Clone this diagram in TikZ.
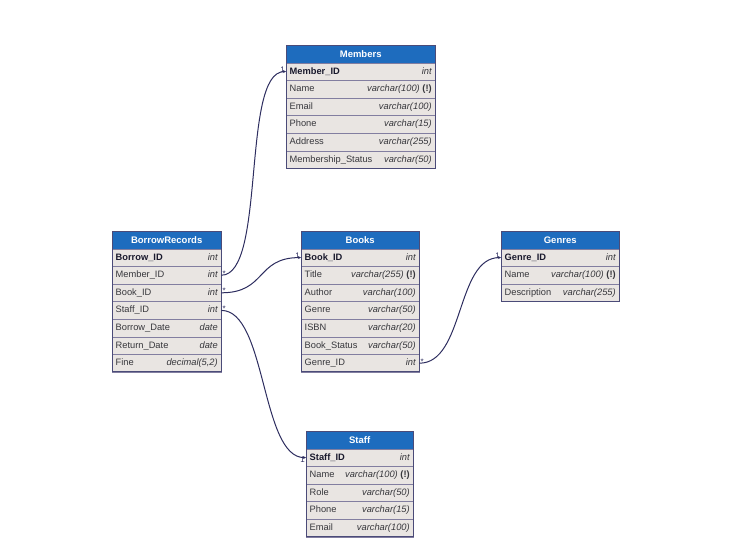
\documentclass[tikz,border=0pt]{standalone}
\usepackage{fontspec}
\setmainfont{Liberation Sans}
\usetikzlibrary{arrows.meta}
\definecolor{hdrblue}{RGB}{30,108,190}
\definecolor{rowfill}{RGB}{233,229,226}
\definecolor{bordc}{RGB}{75,75,120}
\definecolor{sepc}{RGB}{130,126,160}
\definecolor{txtc}{RGB}{55,55,60}
\definecolor{pkc}{RGB}{25,25,45}
\definecolor{linkc}{RGB}{45,45,95}
\tikzset{
  hdr/.style={draw=bordc, fill=hdrblue, text=white, font=\bfseries\fontsize{9.5}{10}\selectfont, minimum height=17.6pt, inner sep=0pt, anchor=north west},
  erow/.style={draw=sepc, fill=rowfill, text=txtc, minimum height=17.6pt, inner sep=0pt, anchor=north west, font=\fontsize{9.3}{10}\selectfont},
  frame/.style={draw=bordc, line width=0.9pt},
  link/.style={draw=linkc, line width=1pt, -{Stealth[length=3pt,width=3pt]}},
  card/.style={font=\fontsize{8}{9}\selectfont, text=linkc, inner sep=0pt}
}
\newcommand{\tabhead}[5]{\node[hdr, minimum width=#4pt] (#1) at (#2,#3) {#5};}
\newcommand{\tabrow}[6]{\node[erow, minimum width=#4pt] (#1) at (#2,#3) {\makebox[\dimexpr#4pt-7pt\relax]{#5\hfill{\itshape #6}}};}
\newcommand{\pk}[1]{{\bfseries\color{pkc}#1}}
\newcommand{\nn}{ \textbf{\upshape(!)}}
\begin{document}
\begin{tikzpicture}[x=1pt,y=-1pt]
\useasboundingbox (0,0) rectangle (737,550);
% Members
\tabhead{mem}{286}{45}{149}{Members}
\tabrow{mem1}{286}{62.6}{149}{\pk{Member\_ID}}{int}
\tabrow{mem2}{286}{80.2}{149}{Name}{varchar(100)\nn}
\tabrow{mem3}{286}{97.8}{149}{Email}{varchar(100)}
\tabrow{mem4}{286}{115.4}{149}{Phone}{varchar(15)}
\tabrow{mem5}{286}{133.0}{149}{Address}{varchar(255)}
\tabrow{mem6}{286}{150.6}{149}{Membership\_Status}{varchar(50)}
\draw[frame] (286,45) rectangle (435,168.2);
% BorrowRecords
\tabhead{br}{112}{231}{109}{BorrowRecords}
\tabrow{br1}{112}{248.6}{109}{\pk{Borrow\_ID}}{int}
\tabrow{br2}{112}{266.2}{109}{Member\_ID}{int}
\tabrow{br3}{112}{283.8}{109}{Book\_ID}{int}
\tabrow{br4}{112}{301.4}{109}{Staff\_ID}{int}
\tabrow{br5}{112}{319.0}{109}{Borrow\_Date}{date}
\tabrow{br6}{112}{336.6}{109}{Return\_Date}{date}
\tabrow{br7}{112}{354.2}{109}{Fine}{decimal(5,2)}
\draw[frame] (112,231) rectangle (221,371.8);
% Books
\tabhead{bk}{301}{231}{118}{Books}
\tabrow{bk1}{301}{248.6}{118}{\pk{Book\_ID}}{int}
\tabrow{bk2}{301}{266.2}{118}{Title}{varchar(255)\nn}
\tabrow{bk3}{301}{283.8}{118}{Author}{varchar(100)}
\tabrow{bk4}{301}{301.4}{118}{Genre}{varchar(50)}
\tabrow{bk5}{301}{319.0}{118}{ISBN}{varchar(20)}
\tabrow{bk6}{301}{336.6}{118}{Book\_Status}{varchar(50)}
\tabrow{bk7}{301}{354.2}{118}{Genre\_ID}{int}
\draw[frame] (301,231) rectangle (419,371.8);
% Genres
\tabhead{gn}{501}{231}{118}{Genres}
\tabrow{gn1}{501}{248.6}{118}{\pk{Genre\_ID}}{int}
\tabrow{gn2}{501}{266.2}{118}{Name}{varchar(100)\nn}
\tabrow{gn3}{501}{283.8}{118}{Description}{varchar(255)}
\draw[frame] (501,231) rectangle (619,301.4);
% Staff
\tabhead{st}{306}{431}{107}{Staff}
\tabrow{st1}{306}{448.6}{107}{\pk{Staff\_ID}}{int}
\tabrow{st2}{306}{466.2}{107}{Name}{varchar(100)\nn}
\tabrow{st3}{306}{483.8}{107}{Role}{varchar(50)}
\tabrow{st4}{306}{501.4}{107}{Phone}{varchar(15)}
\tabrow{st5}{306}{519.0}{107}{Email}{varchar(100)}
\draw[frame] (306,431) rectangle (413,536.6);
% connectors
\draw[link] (br2.east) .. controls +(45,0) and +(-45,0) .. (mem1.west);
\draw[link] (br3.east) .. controls +(45,0) and +(-45,0) .. (bk1.west);
\draw[link] (br4.east) .. controls +(45,0) and +(-45,0) .. (st1.west);
\draw[link] (bk7.east) .. controls +(45,0) and +(-45,0) .. (gn1.west);
% cardinalities
\node[card, anchor=south west] (c1) at ([xshift=1pt,yshift=-1pt]br2.east) {*};
\node[card, anchor=south west] (c2) at ([xshift=1pt,yshift=-1pt]br3.east) {*};
\node[card, anchor=south west] (c3) at ([xshift=1pt,yshift=-1pt]br4.east) {*};
\node[card, anchor=south west] (c4) at ([xshift=1pt,yshift=-1pt]bk7.east) {*};
\node[card, anchor=south east] (d1) at ([xshift=-1pt,yshift=-1pt]mem1.west) {1};
\node[card, anchor=south east] (d2) at ([xshift=-1pt,yshift=-1pt]bk1.west) {1};
\node[card, anchor=south east] (d3) at ([xshift=-1pt,yshift=-1pt]gn1.west) {1};
\node[card, anchor=north east] (d4) at ([xshift=-1pt,yshift=1pt]st1.west) {1};
\end{tikzpicture}
\end{document}
